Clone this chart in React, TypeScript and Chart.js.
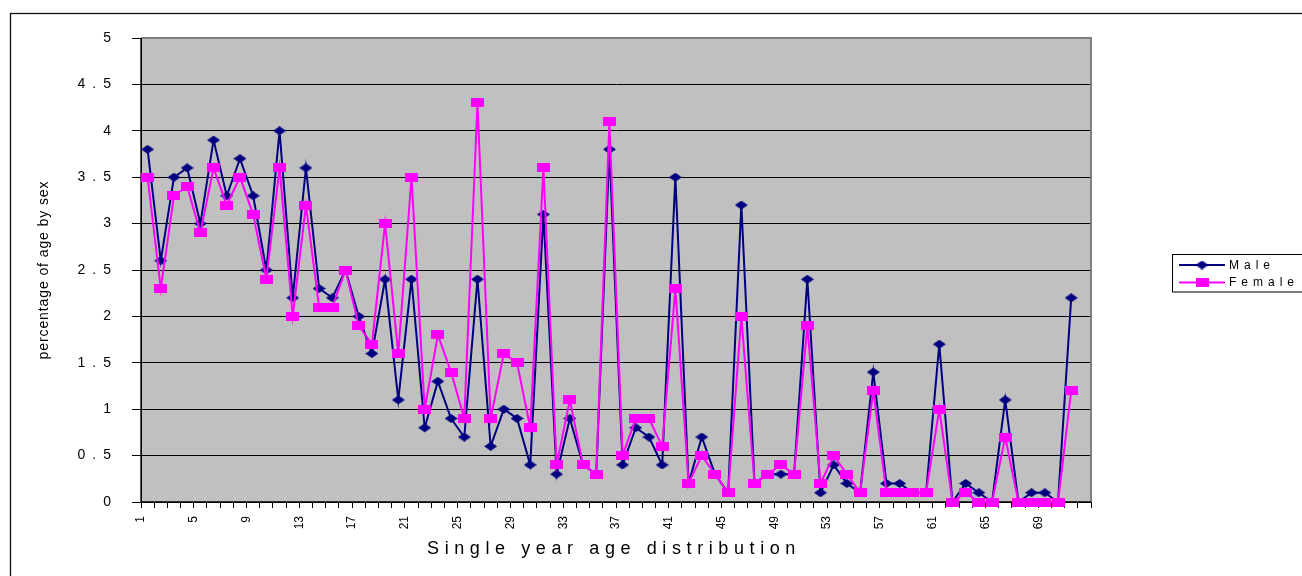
import React, { useEffect, useRef } from 'react';
import { Chart, registerables } from 'chart.js';

Chart.register(...registerables);

const ageLabels = [
  '1', '2', '3', '4', '5', '6', '7', '8', '9', '10',
  '11', '12', '13', '14', '15', '16', '17', '18', '19', '20',
  '21', '22', '23', '24', '25', '26', '27', '28', '29', '30',
  '31', '32', '33', '34', '35', '36', '37', '38', '39', '40',
  '41', '42', '43', '44', '45', '46', '47', '48', '49', '50',
  '51', '52', '53', '54', '55', '56', '57', '58', '59', '60',
  '61', '62', '63', '64', '65', '66', '67', '68', '69', '70',
  '71', '72',
];

const maleValues = [
  3.8, 2.6, 3.5, 3.6, 3.0, 3.9, 3.3, 3.7, 3.3, 2.5,
  4.0, 2.2, 3.6, 2.3, 2.2, 2.5, 2.0, 1.6, 2.4, 1.1,
  2.4, 0.8, 1.3, 0.9, 0.7, 2.4, 0.6, 1.0, 0.9, 0.4,
  3.1, 0.3, 0.9, 0.4, 0.3, 3.8, 0.4, 0.8, 0.7, 0.4,
  3.5, 0.2, 0.7, 0.3, 0.1, 3.2, 0.2, 0.3, 0.3, 0.3,
  2.4, 0.1, 0.4, 0.2, 0.1, 1.4, 0.2, 0.2, 0.1, 0.1,
  1.7, 0.0, 0.2, 0.1, 0.0, 1.1, 0.0, 0.1, 0.1, 0.0,
  2.2,
];

const femaleValues = [
  3.5, 2.3, 3.3, 3.4, 2.9, 3.6, 3.2, 3.5, 3.1, 2.4,
  3.6, 2.0, 3.2, 2.1, 2.1, 2.5, 1.9, 1.7, 3.0, 1.6,
  3.5, 1.0, 1.8, 1.4, 0.9, 4.3, 0.9, 1.6, 1.5, 0.8,
  3.6, 0.4, 1.1, 0.4, 0.3, 4.1, 0.5, 0.9, 0.9, 0.6,
  2.3, 0.2, 0.5, 0.3, 0.1, 2.0, 0.2, 0.3, 0.4, 0.3,
  1.9, 0.2, 0.5, 0.3, 0.1, 1.2, 0.1, 0.1, 0.1, 0.1,
  1.0, 0.0, 0.1, 0.0, 0.0, 0.7, 0.0, 0.0, 0.0, 0.0,
  1.2,
];

const seriesNames = ['Male', 'Female'];
const seriesColors = ['#000080', '#FF00FF'];
const xAxisTitle = 'Single year age distribution';
const yAxisTitle = 'percentage of age by sex';

const FONT = "'Liberation Sans', Arial, sans-serif";

function makeDiamond(w: number, h: number, color: string) {
  const c = document.createElement('canvas');
  c.width = w;
  c.height = h;
  const g = c.getContext('2d')!;
  g.fillStyle = color;
  g.beginPath();
  g.moveTo(w / 2, 0);
  g.lineTo(w, h / 2);
  g.lineTo(w / 2, h);
  g.lineTo(0, h / 2);
  g.closePath();
  g.fill();
  return c;
}

function makeRect(w: number, h: number, color: string) {
  const c = document.createElement('canvas');
  c.width = w;
  c.height = h;
  const g = c.getContext('2d')!;
  g.fillStyle = color;
  g.fillRect(0, 0, w, h);
  return c;
}

export default function App() {
  const ref = useRef<HTMLCanvasElement | null>(null);

  useEffect(() => {
    if (!ref.current) return;
    const diamond = makeDiamond(13, 9, seriesColors[0]);
    const square = makeRect(13, 9, seriesColors[1]);
    const markers = [diamond, square];

    const decor = {
      id: 'decor',
      beforeDraw(chart: any) {
        const { ctx, chartArea: a } = chart;
        ctx.save();
        ctx.fillStyle = '#C0C0C0';
        ctx.fillRect(a.left, a.top, a.right - a.left, a.bottom - a.top);
        ctx.strokeStyle = '#111';
        ctx.lineWidth = 1.3;
        ctx.strokeRect(10.5, 13.5, 1400, 700);
        ctx.restore();
      },
      beforeDatasetsDraw(chart: any) {
        const { ctx, chartArea: a } = chart;
        ctx.save();
        ctx.strokeStyle = '#808080';
        ctx.lineWidth = 2;
        ctx.beginPath();
        ctx.moveTo(a.left, a.top);
        ctx.lineTo(a.right, a.top);
        ctx.lineTo(a.right, a.bottom);
        ctx.stroke();
        ctx.strokeStyle = '#000';
        ctx.lineWidth = 1.3;
        ctx.beginPath();
        ctx.moveTo(a.left, a.top);
        ctx.lineTo(a.left, a.bottom);
        ctx.lineTo(a.right, a.bottom);
        ctx.stroke();
        ctx.restore();
      },
      afterDraw(chart: any) {
        const { ctx, chartArea: a } = chart;
        ctx.save();
        ctx.fillStyle = '#000';
        // x axis title
        ctx.font = `18px ${FONT}`;
        (ctx as any).letterSpacing = '5.6px';
        ctx.textAlign = 'center';
        ctx.textBaseline = 'alphabetic';
        ctx.fillText(xAxisTitle, 614, 554);
        // y axis title
        ctx.save();
        ctx.translate(44, (a.top + a.bottom) / 2);
        ctx.rotate(-Math.PI / 2);
        ctx.font = `14px ${FONT}`;
        (ctx as any).letterSpacing = '0.9px';
        ctx.textAlign = 'center';
        ctx.textBaseline = 'middle';
        ctx.fillText(yAxisTitle, 0, 0);
        ctx.restore();
        // legend
        ctx.strokeStyle = '#000';
        ctx.lineWidth = 1;
        ctx.strokeRect(1172.5, 254.5, 200, 37.5);
        const rows = [265, 282.5];
        ctx.font = `12px ${FONT}`;
        (ctx as any).letterSpacing = '5px';
        ctx.textAlign = 'left';
        ctx.textBaseline = 'middle';
        for (let i = 0; i < seriesNames.length; i++) {
          const y = rows[i];
          ctx.strokeStyle = seriesColors[i];
          ctx.lineWidth = 2;
          ctx.beginPath();
          ctx.moveTo(1179, y);
          ctx.lineTo(1225, y);
          ctx.stroke();
          const m = markers[i];
          ctx.drawImage(m, 1202 - m.width / 2, y - m.height / 2);
          ctx.fillStyle = '#000';
          ctx.fillText(seriesNames[i], 1229, y + 0.5);
        }
        ctx.restore();
      },
    };

    const chart = new Chart(ref.current, {
      type: 'line',
      data: {
        labels: ageLabels,
        datasets: [
          {
            label: seriesNames[0],
            data: maleValues,
            borderColor: seriesColors[0],
            backgroundColor: seriesColors[0],
            borderWidth: 2,
            pointStyle: diamond as any,
            pointRadius: 6,
            pointHoverRadius: 6,
            tension: 0,
            clip: false as any,
            order: 1,
          },
          {
            label: seriesNames[1],
            data: femaleValues,
            borderColor: seriesColors[1],
            backgroundColor: seriesColors[1],
            borderWidth: 2,
            pointStyle: square as any,
            pointRadius: 6,
            pointHoverRadius: 6,
            tension: 0,
            clip: false as any,
            order: 0,
          },
        ],
      },
      options: {
        responsive: false,
        animation: false,
        events: [],
        layout: { padding: { left: 0, top: 38, right: 211, bottom: 0 } },
        plugins: {
          legend: { display: false },
          tooltip: { enabled: false },
          title: { display: false },
        },
        scales: {
          x: {
            type: 'category',
            offset: true,
            afterFit(scale: any) {
              scale.height = 74;
            },
            grid: {
              offset: true,
              drawOnChartArea: false,
              drawTicks: true,
              tickLength: 6,
              color: '#000',
              lineWidth: 1,
            },
            border: { display: true, color: '#000', width: 1 },
            ticks: {
              autoSkip: false,
              maxRotation: 90,
              minRotation: 90,
              labelOffset: -6.6,
              padding: 8,
              color: '#000',
              font: { family: FONT, size: 12 },
              callback: (_v: any, i: number) => (i % 4 === 0 ? ageLabels[i] : ''),
            },
          },
          y: {
            type: 'linear',
            min: 0,
            max: 5,
            afterFit(scale: any) {
              scale.width = 141;
            },
            grid: {
              color: '#000',
              lineWidth: 1,
              tickLength: 9,
              drawTicks: true,
            },
            border: { display: true, color: '#000', width: 1 },
            ticks: {
              stepSize: 0.5,
              padding: 21,
              color: '#000',
              font: { family: FONT, size: 14 },
              callback: (v: any) => String(Number(v)).split('').join('\u2002'),
            },
          },
        },
      },
      plugins: [decor],
    });

    return () => chart.destroy();
  }, []);

  return (
    <div style={{ position: 'absolute', left: 0, top: 0, width: 1302, height: 576 }}>
      <canvas ref={ref} width={1302} height={576} style={{ display: 'block', width: 1302, height: 576 }} />
    </div>
  );
}
